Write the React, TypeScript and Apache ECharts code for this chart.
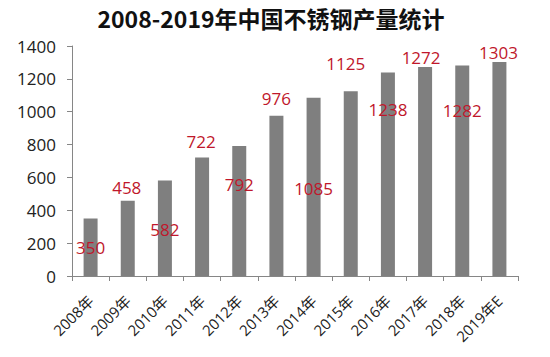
import React, { useEffect, useRef } from "react";
import * as echarts from "echarts";

const categories = ["2008年", "2009年", "2010年", "2011年", "2012年", "2013年", "2014年", "2015年", "2016年", "2017年", "2018年", "2019年E"];
const production = [350, 458, 582, 722, 792, 976, 1085, 1125, 1238, 1272, 1282, 1303];
const yTicks = { min: 0, max: 1400, interval: 200 };
const titleText = "2008-2019年中国不锈钢产量统计";

// label centre offsets relative to each bar's top (layout, not data)
const labelShift: [number, number][] = [
  [0, 29], [-1, -13], [0, 49], [-1, -16], [0, 39], [0, -17],
  [0, 91], [-5, -28], [0, 37], [-4, -10], [0, 45], [-1, -9],
];

export default function App() {
  const ref = useRef<HTMLDivElement>(null);
  useEffect(() => {
    if (!ref.current) return;
    const chart = echarts.init(ref.current, undefined, { renderer: "svg" });
    const font = "'Open Sans', 'Noto Sans', sans-serif";
    chart.setOption({
      animation: false,
      backgroundColor: "#ffffff",
      graphic: [
        {
          type: "text",
          x: 271,
          y: 18,
          style: {
            text: titleText,
            fontSize: 23,
            fontWeight: "bold",
            fontFamily: "'Noto Sans CJK SC', sans-serif",
            fill: "#111111",
            align: "center",
            verticalAlign: "middle",
          },
        },
      ],
      grid: { left: 72, right: 32, top: 46, bottom: 81, containLabel: false },
      xAxis: {
        type: "category",
        data: categories,
        boundaryGap: true,
        axisLine: { show: true, lineStyle: { color: "#868686", width: 1 } },
        axisTick: { show: true, alignWithLabel: false, length: 5, lineStyle: { color: "#868686" } },
        axisLabel: {
          rotate: 45,
          margin: 22,
          fontSize: 15,
          color: "#222222",
          fontFamily: "'Open Sans', 'Noto Sans CJK SC', sans-serif",
          interval: 0,
        },
      },
      yAxis: {
        type: "value",
        min: yTicks.min,
        max: yTicks.max,
        interval: yTicks.interval,
        splitLine: { show: false },
        axisLine: { show: true, lineStyle: { color: "#868686", width: 1 } },
        axisTick: { show: true, length: 5, lineStyle: { color: "#868686" } },
        axisLabel: { fontSize: 17, color: "#222222", margin: 16, fontFamily: font, formatter: (v: number) => String(v) },
      },
      series: [
        {
          type: "bar",
          barWidth: 14,
          itemStyle: { color: "#7f7f7f" },
          data: production.map((v, i) => ({
            value: v,
            label: {
              show: true,
              position: "top",
              distance: 0,
              verticalAlign: "middle",
              align: "center",
              offset: labelShift[i],
              fontSize: 17,
              color: "#c0172b",
              fontFamily: font,
            },
          })),
        },
      ],
    });
    return () => chart.dispose();
  }, []);
  return <div ref={ref} style={{ width: 550, height: 357, position: "absolute", left: 0, top: 0 }} />;
}
